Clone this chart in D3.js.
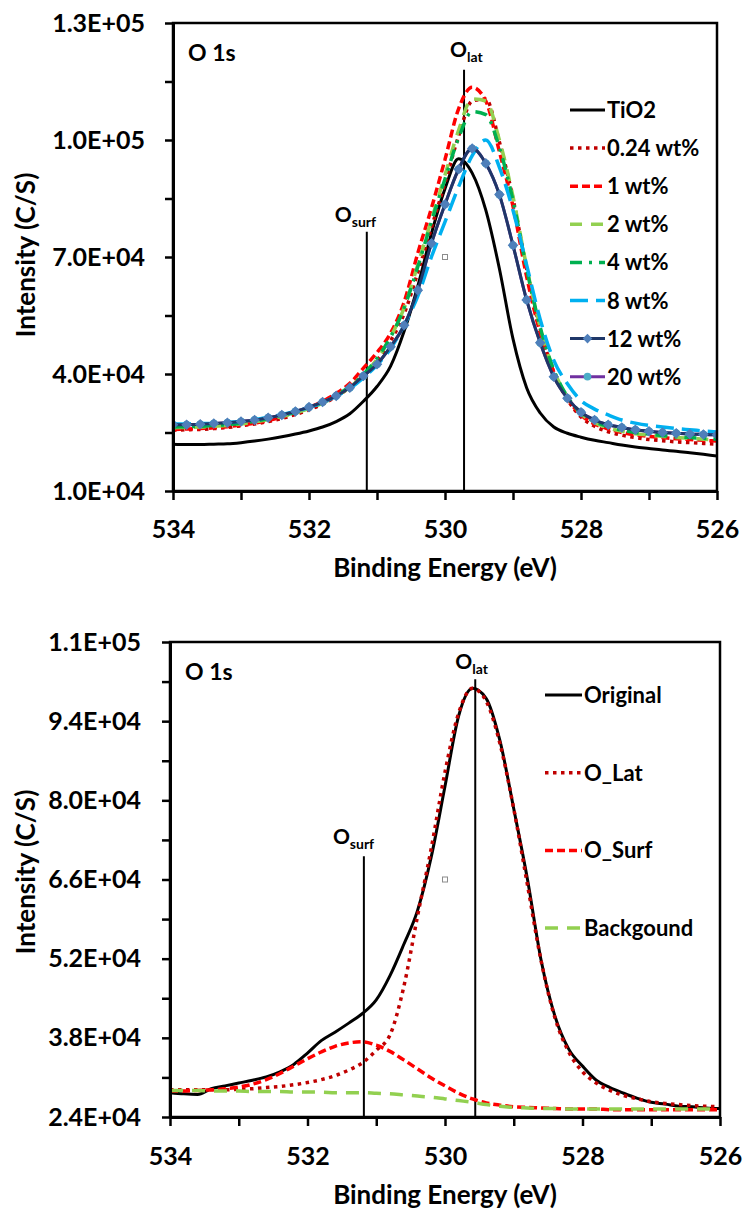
<!DOCTYPE html>
<html>
<head>
<meta charset="utf-8">
<script src="https://cdn.jsdelivr.net/npm/d3@7"></script>
<style>
  body { margin: 0; background: #fff; }
  svg text { font-family: Lato, "Open Sans", sans-serif; font-weight: bold; fill: #000; }
</style>
</head>
<body>
<svg id="chart" width="744" height="1212"></svg>
<script>
// binding energy grid (eV), shared by every series
var energy = [534.0, 533.8, 533.6, 533.4, 533.2, 533.0, 532.8, 532.6, 532.4, 532.2,
  532.0, 531.8, 531.6, 531.4, 531.2, 531.0, 530.8, 530.6, 530.4, 530.2,
  530.0, 529.8, 529.6, 529.4, 529.2, 529.0, 528.8, 528.6, 528.4, 528.2,
  528.0, 527.8, 527.6, 527.4, 527.2, 527.0, 526.8, 526.6, 526.4, 526.2, 526.0];

// top panel, intensity (C/S)
var tio2 = [22000, 21900, 21900, 22000, 22100, 22400, 22800, 23300, 23900, 24600,
  25400, 26400, 27800, 29800, 33000, 36800, 42000, 51000, 62500, 76000,
  87500, 95200, 91500, 82000, 67000, 49000, 36500, 30000, 26400, 24800,
  23800, 23000, 22400, 21800, 21300, 20900, 20500, 20200, 19800, 19400, 19000];
var wt024 = [25600, 25700, 25800, 26000, 26300, 26700, 27200, 27800, 28600, 29600,
  30800, 32300, 34200, 36600, 39800, 43500, 48500, 55500, 66000, 77500,
  89000, 101000, 110000, 110500, 99500, 85000, 67000, 51500, 40500, 33500,
  29000, 26600, 25200, 24300, 23700, 23200, 22900, 22600, 22400, 22200, 22000];
var wt1 = [25800, 25900, 26000, 26200, 26500, 26900, 27400, 28100, 29000, 30100,
  31400, 33000, 35000, 37600, 41500, 45500, 50500, 58500, 71000, 82500,
  95000, 108000, 113500, 110000, 97000, 83000, 65000, 50500, 40500, 33800,
  29500, 27200, 25900, 25000, 24400, 24000, 23700, 23400, 23200, 23000, 22800];
var wt2 = [26200, 26300, 26400, 26600, 26800, 27200, 27700, 28300, 29100, 30000,
  31100, 32500, 34300, 36600, 39700, 43800, 49500, 57000, 68000, 79500,
  91000, 102500, 110500, 110000, 100000, 85500, 67500, 52000, 41000, 34000,
  29800, 27500, 26200, 25300, 24700, 24300, 24000, 23700, 23500, 23300, 23100];
var wt4 = [26400, 26500, 26600, 26800, 27000, 27400, 27900, 28500, 29300, 30200,
  31300, 32700, 34500, 36800, 39900, 44000, 49500, 57000, 67500, 79000,
  90000, 100500, 107300, 106500, 98000, 84500, 67000, 52000, 41000, 34200,
  30000, 27800, 26500, 25600, 25000, 24600, 24200, 23900, 23700, 23500, 23300];
var wt8 = [27200, 27200, 27300, 27400, 27600, 27900, 28300, 28900, 29600, 30400,
  31400, 32700, 34300, 36300, 39000, 42300, 46500, 52500, 60000, 70000,
  79000, 88000, 96000, 100000, 93000, 82000, 68000, 54000, 43500, 37500,
  33200, 31000, 29500, 28200, 27400, 26800, 26400, 26000, 25700, 25400, 25100];
var wt12 = [27000, 27000, 27100, 27300, 27500, 27800, 28200, 28800, 29500, 30400,
  31500, 32800, 34400, 36500, 39500, 42500, 47000, 52500, 61500, 73500,
  83500, 92500, 97800, 94000, 86000, 73000, 59000, 48000, 39300, 33800,
  30200, 28200, 27000, 26300, 25700, 25300, 25000, 24800, 24600, 24500, 24400];
var wt20 = [27000, 27000, 27100, 27300, 27500, 27800, 28200, 28800, 29500, 30400,
  31500, 32800, 34400, 36500, 39500, 42500, 47000, 52500, 61500, 73500,
  83500, 92500, 97800, 94000, 86000, 73000, 59000, 48000, 39300, 33800,
  30200, 28200, 27000, 26300, 25700, 25300, 25000, 24800, 24600, 24500, 24400];

// bottom panel, fitted components of one spectrum
var original = [28300, 28100, 28000, 29000, 29500, 30000, 30500, 31100, 32000, 33300,
  35300, 37500, 39000, 40600, 42300, 44700, 49000, 54500, 60500, 70000,
  82500, 95000, 99800, 98000, 90500, 78500, 66000, 51600, 41800, 36000,
  33000, 30500, 29200, 28200, 27300, 26600, 26300, 25900, 25800, 25600, 25500];
var oLat = [28800, 28800, 28800, 28800, 28800, 28900, 29000, 29200, 29400, 29700,
  30100, 30600, 31300, 32300, 33600, 35800, 38500, 47000, 59500, 71500,
  85000, 95500, 99800, 97500, 90000, 78500, 65000, 51500, 41500, 35500,
  32000, 30000, 28700, 27800, 27200, 26700, 26400, 26200, 26000, 25900, 25800];
var oSurf = [28600, 28600, 28700, 28800, 29000, 29300, 29800, 30600, 31700, 33000,
  34300, 35500, 36500, 37100, 37300, 36700, 35600, 34100, 32500, 30900,
  29500, 28200, 27200, 26500, 26100, 25800, 25700, 25600, 25500, 25400,
  25400, 25400, 25300, 25300, 25300, 25300, 25300, 25300, 25300, 25300, 25300];
var background = [28700, 28700, 28700, 28600, 28600, 28600, 28500, 28500, 28500, 28400,
  28400, 28400, 28300, 28300, 28300, 28200, 28100, 27900, 27700, 27500,
  27200, 26900, 26600, 26200, 25900, 25700, 25600, 25500, 25500, 25400,
  25400, 25400, 25400, 25400, 25400, 25400, 25400, 25400, 25400, 25400, 25400];

// axis ticks
var energyTicks = [534, 532, 530, 528, 526];
var energyMinor = [533, 531, 529, 527];
var topTicks = [10000, 40000, 70000, 100000, 130000];
var topMinor = [25000, 55000, 85000, 115000];
var bottomTicks = [24000, 38000, 52000, 66000, 80000, 94000, 108000];
var bottomMinor = [31000, 45000, 59000, 73000, 87000, 101000];

// peak markers: [label subscript, energy, intensity where the line starts]
var topPeaks = [['surf', 531.15, 76500], ['lat', 529.72, 118000]];
var bottomPeaks = [['surf', 531.18, 70100], ['lat', 529.56, 101400]];

// stray selection handle left in the original plots
var topHandle = [530, 70000];
var bottomHandle = [530, 66000];

var svg = d3.select('#chart');

function sci(v) {
  var e = Math.floor(Math.log10(v));
  var m = v / Math.pow(10, e);
  return m.toFixed(1) + 'E+' + (e < 10 ? '0' + e : e);
}

function markerSymbol(s, size) {
  return d3.symbol(s.marker === 'diamond' ? d3.symbolSquare : d3.symbolCircle).size(size);
}

function drawPanel(p) {
  var x = d3.scaleLinear().domain([534, 526]).range([p.left, p.right]);
  var y = d3.scaleLinear().domain([p.yTicks[0], p.yTicks[p.yTicks.length - 1]]).range([p.bottom, p.top]);
  var g = svg.append('g');

  g.append('clipPath').attr('id', p.id + '-clip')
    .append('rect')
    .attr('x', p.left).attr('y', p.top)
    .attr('width', p.right - p.left).attr('height', p.bottom - p.top);

  // peak position lines
  p.peaks.forEach(function(pk, i) {
    var px = x(pk[1]);
    g.append('line')
      .attr('x1', px).attr('x2', px)
      .attr('y1', y(pk[2])).attr('y2', p.bottom)
      .attr('stroke', '#000').attr('stroke-width', 2);
    var lab = g.append('text')
      .attr('x', px + p.peakLabelDx[i])
      .attr('y', y(pk[2]) - p.peakLabelDy[i])
      .attr('font-size', 21);
    lab.append('tspan').text('O');
    lab.append('tspan').attr('font-size', 14).attr('dy', 5).text(pk[0]);
  });

  // series
  var plot = g.append('g').attr('clip-path', 'url(#' + p.id + '-clip)');
  var line = d3.line()
    .x(function(d, i) { return x(energy[i]); })
    .y(function(d) { return y(d); })
    .curve(d3.curveMonotoneX);

  p.series.forEach(function(s) {
    plot.append('path')
      .datum(s.values)
      .attr('fill', 'none')
      .attr('stroke', s.color)
      .attr('stroke-width', s.width)
      .attr('stroke-dasharray', s.dash)
      .attr('stroke-linejoin', 'round')
      .attr('d', line);
    if (s.marker) {
      plot.selectAll(null)
        .data(s.values)
        .enter().append('path')
        .attr('d', markerSymbol(s, 42))
        .attr('transform', function(d, i) {
          return 'translate(' + x(energy[i]) + ',' + y(d) + ')' + (s.marker === 'diamond' ? ' rotate(45)' : '');
        })
        .attr('fill', s.markerColor)
        .attr('stroke', s.markerColor)
        .attr('stroke-width', 1);
    }
  });

  g.append('rect')
    .attr('x', x(p.handle[0]) - 2.5).attr('y', y(p.handle[1]) - 2.5)
    .attr('width', 5).attr('height', 5)
    .attr('fill', '#fff').attr('stroke', '#8c8c8c').attr('stroke-width', 1);

  // frame
  g.append('rect')
    .attr('x', p.left).attr('y', p.top)
    .attr('width', p.right - p.left).attr('height', p.bottom - p.top)
    .attr('fill', 'none').attr('stroke', '#000').attr('stroke-width', 2.5);

  // axes
  var yAxis = g.append('g')
    .attr('transform', 'translate(' + p.left + ',0)')
    .call(d3.axisLeft(y).tickValues(p.yTicks).tickSize(8).tickSizeOuter(0).tickPadding(p.yPad).tickFormat(sci));
  var yMinor = g.append('g')
    .attr('transform', 'translate(' + p.left + ',0)')
    .call(d3.axisLeft(y).tickValues(p.yMinor).tickSize(8).tickSizeOuter(0).tickFormat(''));
  var xAxis = g.append('g')
    .attr('transform', 'translate(0,' + p.bottom + ')')
    .call(d3.axisBottom(x).tickValues(energyTicks).tickSize(9).tickSizeOuter(0).tickPadding(p.xPad).tickFormat(d3.format('d')));
  var xMinor = g.append('g')
    .attr('transform', 'translate(0,' + p.bottom + ')')
    .call(d3.axisBottom(x).tickValues(energyMinor).tickSize(9).tickSizeOuter(0).tickFormat(''));

  [yAxis, yMinor, xAxis, xMinor].forEach(function(a) {
    a.attr('font-family', null).attr('font-size', null);
    a.select('.domain').attr('stroke', '#000').attr('stroke-width', 3);
    a.selectAll('.tick line').attr('stroke', '#000').attr('stroke-width', 2.5);
    a.selectAll('.tick text').attr('font-size', 25);
  });

  // titles
  g.append('text')
    .attr('x', (p.left + p.right) / 2).attr('y', p.xTitleY)
    .attr('text-anchor', 'middle').attr('font-size', 26)
    .text('Binding Energy (eV)');
  g.append('text')
    .attr('transform', 'translate(35,' + p.yTitleY + ') rotate(-90)')
    .attr('text-anchor', 'middle').attr('font-size', 26)
    .text('Intensity (C/S)');
  g.append('text')
    .attr('x', p.left + 15).attr('y', p.top + 38)
    .attr('font-size', 23)
    .text('O 1s');

  // legend
  p.series.forEach(function(s) {
    var ly = p.legendTop + s.legendRow * p.legendGap;
    var lg = g.append('g');
    lg.append('line')
      .attr('x1', p.legendX).attr('x2', p.legendX + p.legendLen)
      .attr('y1', ly).attr('y2', ly)
      .attr('stroke', s.color).attr('stroke-width', s.width)
      .attr('stroke-dasharray', s.dash);
    if (s.marker) {
      lg.append('path')
        .attr('d', markerSymbol(s, 46))
        .attr('transform', 'translate(' + (p.legendX + p.legendLen / 2) + ',' + ly + ')' + (s.marker === 'diamond' ? ' rotate(45)' : ''))
        .attr('fill', s.markerColor);
    }
    lg.append('text')
      .attr('x', p.legendX + p.legendLen + 2).attr('y', ly + 8)
      .attr('font-size', 22)
      .text(s.name);
  });
}

drawPanel({
  id: 'top', left: 173, right: 717, top: 23, bottom: 491,
  yTicks: topTicks, yMinor: topMinor, yPad: 20, xPad: 20,
  xTitleY: 577, yTitleY: 255,
  peaks: topPeaks, peakLabelDx: [-32, -14], peakLabelDy: [10, 13],
  handle: topHandle,
  legendX: 570, legendLen: 35, legendTop: 110, legendGap: 38.1,
  series: [
    {name: '20 wt%', values: wt20, color: '#7030A0', width: 3, marker: 'circle', markerColor: '#4BACC6', legendRow: 7},
    {name: 'TiO2', values: tio2, color: '#000', width: 3, legendRow: 0},
    {name: '0.24 wt%', values: wt024, color: '#C00000', width: 3.5, dash: '3.5,4.5', legendRow: 1},
    {name: '1 wt%', values: wt1, color: '#FF0000', width: 3.5, dash: '8,4', legendRow: 2},
    {name: '2 wt%', values: wt2, color: '#92D050', width: 3.5, dash: '12,9', legendRow: 3},
    {name: '4 wt%', values: wt4, color: '#00B050', width: 3.5, dash: '12,7,3,7', legendRow: 4},
    {name: '8 wt%', values: wt8, color: '#00B0F0', width: 3.5, dash: '18,8', legendRow: 5},
    {name: '12 wt%', values: wt12, color: '#1F3768', width: 3, marker: 'diamond', markerColor: '#4F7FBA', legendRow: 6}
  ]
});

drawPanel({
  id: 'bottom', left: 170, right: 720, top: 642, bottom: 1117,
  yTicks: bottomTicks, yMinor: bottomMinor, yPad: 21, xPad: 21,
  xTitleY: 1204, yTitleY: 872,
  peaks: bottomPeaks, peakLabelDx: [-31, -20], peakLabelDy: [12, 10],
  handle: bottomHandle,
  legendX: 545, legendLen: 37, legendTop: 695, legendGap: 77.7,
  series: [
    {name: 'Original', values: original, color: '#000', width: 3, legendRow: 0},
    {name: 'O_Lat', values: oLat, color: '#C00000', width: 3.5, dash: '3.5,4.5', legendRow: 1},
    {name: 'O_Surf', values: oSurf, color: '#FF0000', width: 3.5, dash: '8,4', legendRow: 2},
    {name: 'Backgound', values: background, color: '#92D050', width: 3.5, dash: '13,9', legendRow: 3}
  ]
});
</script>
</body>
</html>
